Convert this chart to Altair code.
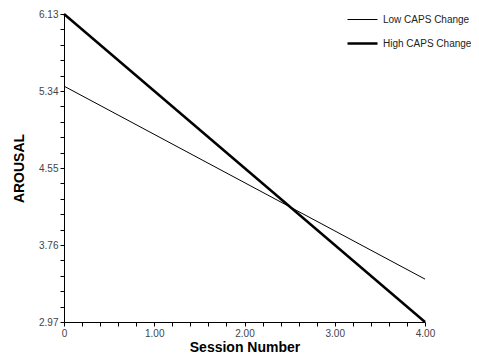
import altair as alt
import pandas as pd

sessions = [0.0, 4.0]
low_caps = [5.39, 3.41]
high_caps = [6.13, 2.97]
series_names = ["Low CAPS Change", "High CAPS Change"]

rows = []
for s, v in zip(sessions, low_caps):
    rows.append({"session": s, "arousal": v, "group": series_names[0]})
for s, v in zip(sessions, high_caps):
    rows.append({"session": s, "arousal": v, "group": series_names[1]})
df = pd.DataFrame(rows)

y_major = [2.97, 3.76, 4.55, 5.34, 6.13]
x_major = [0, 1, 2, 3, 4]
y_ticks = [round(2.97 + i * 0.158, 3) for i in range(21)]
x_ticks = [round(i * 0.2, 2) for i in range(21)]

chart = alt.Chart(df).mark_line(color="black").encode(
    x=alt.X("session:Q", scale=alt.Scale(domain=[0, 4], nice=False, zero=False),
            axis=alt.Axis(values=x_ticks, title="Session Number",
                          labelExpr="datum.value == 0 ? '0' : (abs(datum.value - round(datum.value)) < 0.01 ? format(datum.value, '.2f') : '')",
                          grid=False, tickSize=4, labelFontSize=10, labelColor="#444",
                          titleFontSize=14, titleFontWeight="bold", titlePadding=2,
                          labelPadding=2, domainColor="black", tickColor="black",
                          labelFlush=False, labelOverlap=False,
                          labelFont="Liberation Sans", titleFont="Liberation Sans")),
    y=alt.Y("arousal:Q", scale=alt.Scale(domain=[2.97, 6.13], nice=False, zero=False),
            axis=alt.Axis(values=y_ticks, title="AROUSAL",
                          labelExpr="indexof([2.97,3.76,4.55,5.34,6.13], round(datum.value*100)/100) >= 0 ? format(datum.value, '.2f') : ''",
                          grid=False, tickSize=4, labelFontSize=10, labelColor="#444",
                          titleFontSize=14, titleFontWeight="bold", titlePadding=12,
                          domainColor="black", tickColor="black",
                          labelFlush=False, labelOverlap=False,
                          labelFont="Liberation Sans", titleFont="Liberation Sans")),
    strokeWidth=alt.StrokeWidth("group:N",
                                scale=alt.Scale(domain=series_names, range=[1, 2.5]),
                                legend=alt.Legend(title=None, orient="none", legendX=282, legendY=-10,
                                                  symbolType="stroke", symbolStrokeColor="black",
                                                  symbolSize=900, labelFontSize=10, labelColor="#222",
                                                  labelLimit=300, labelOffset=4,
                                                  labelFont="Liberation Sans", rowPadding=2)),
).properties(
    width=361, height=308,
    autosize=alt.AutoSizeParams(type="none"),
    padding={"left": 56, "top": 6, "right": 46, "bottom": 34},
).configure_view(stroke=None)

chart.save("out.html", embed_options={"renderer": "svg", "actions": False})
